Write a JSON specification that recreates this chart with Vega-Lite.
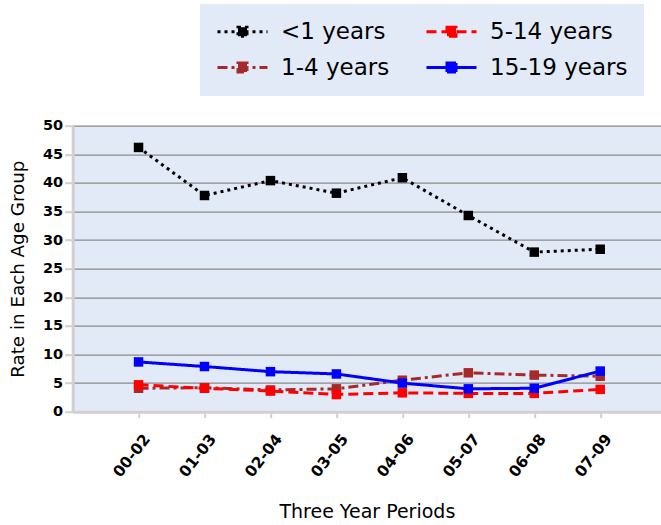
{
  "$schema": "https://vega.github.io/schema/vega-lite/v6.json",
  "autosize": {"type": "none"},
  "padding": {"left": 72.7, "top": 125.7, "right": 0, "bottom": 113.3},
  "width": 588.3,
  "height": 286,
  "background": "white",
  "data": {
    "values": [
      {"period": "00-02", "group": "<1 years", "rate": 46.2},
      {"period": "01-03", "group": "<1 years", "rate": 37.8},
      {"period": "02-04", "group": "<1 years", "rate": 40.4},
      {"period": "03-05", "group": "<1 years", "rate": 38.2},
      {"period": "04-06", "group": "<1 years", "rate": 40.9},
      {"period": "05-07", "group": "<1 years", "rate": 34.3},
      {"period": "06-08", "group": "<1 years", "rate": 27.9},
      {"period": "07-09", "group": "<1 years", "rate": 28.4},
      {"period": "00-02", "group": "1-4 years", "rate": 4.1},
      {"period": "01-03", "group": "1-4 years", "rate": 4.2},
      {"period": "02-04", "group": "1-4 years", "rate": 3.8},
      {"period": "03-05", "group": "1-4 years", "rate": 4.0},
      {"period": "04-06", "group": "1-4 years", "rate": 5.5},
      {"period": "05-07", "group": "1-4 years", "rate": 6.8},
      {"period": "06-08", "group": "1-4 years", "rate": 6.4},
      {"period": "07-09", "group": "1-4 years", "rate": 6.2},
      {"period": "00-02", "group": "5-14 years", "rate": 4.7},
      {"period": "01-03", "group": "5-14 years", "rate": 4.1},
      {"period": "02-04", "group": "5-14 years", "rate": 3.6},
      {"period": "03-05", "group": "5-14 years", "rate": 3.0},
      {"period": "04-06", "group": "5-14 years", "rate": 3.3},
      {"period": "05-07", "group": "5-14 years", "rate": 3.2},
      {"period": "06-08", "group": "5-14 years", "rate": 3.2},
      {"period": "07-09", "group": "5-14 years", "rate": 3.9},
      {"period": "00-02", "group": "15-19 years", "rate": 8.7},
      {"period": "01-03", "group": "15-19 years", "rate": 7.9},
      {"period": "02-04", "group": "15-19 years", "rate": 7.0},
      {"period": "03-05", "group": "15-19 years", "rate": 6.6},
      {"period": "04-06", "group": "15-19 years", "rate": 5.0},
      {"period": "05-07", "group": "15-19 years", "rate": 4.0},
      {"period": "06-08", "group": "15-19 years", "rate": 4.1},
      {"period": "07-09", "group": "15-19 years", "rate": 7.1}
    ]
  },
  "mark": {
    "type": "line",
    "strokeWidth": 3,
    "point": {"shape": "square", "filled": true, "size": 90, "opacity": 1}
  },
  "encoding": {
    "x": {
      "field": "period",
      "type": "ordinal",
      "sort": null,
      "scale": {"type": "point", "padding": 0.96, "align": 0.52},
      "axis": {
        "title": "Three Year Periods",
        "labelAngle": -52,
        "labelFontSize": 15.5,
        "labelFontWeight": "bold",
        "labelPadding": 18,
        "labelOffset": 8,
        "titlePadding": 23,
        "titleFontSize": 19,
        "grid": false,
        "domainColor": "#d0d0d0",
        "domainWidth": 3,
        "tickColor": "#d0d0d0",
        "tickWidth": 2,
        "tickSize": 6
      }
    },
    "y": {
      "field": "rate",
      "type": "quantitative",
      "scale": {"domain": [0, 50], "nice": false},
      "axis": {
        "title": "Rate in Each Age Group",
        "values": [0, 5, 10, 15, 20, 25, 30, 35, 40, 45, 50],
        "labelFontSize": 14.5,
        "labelFontWeight": "bold",
        "labelPadding": 2,
        "titlePadding": 15,
        "grid": true,
        "gridColor": "#8a8a8a",
        "gridWidth": 1.2,
        "domainColor": "#d0d0d0",
        "domainWidth": 3,
        "tickColor": "#d0d0d0",
        "tickWidth": 2,
        "tickSize": 8
      }
    },
    "color": {
      "field": "group",
      "type": "nominal",
      "scale": {
        "domain": ["<1 years", "1-4 years", "5-14 years", "15-19 years"],
        "range": ["#000000", "#a52a2a", "#ff0000", "#0000ff"]
      },
      "legend": {
        "title": null,
        "orient": "none",
        "legendX": 127.3,
        "legendY": -121.7,
        "columns": 2,
        "direction": "vertical",
        "fillColor": "#e3eaf7",
        "padding": 16,
        "symbolType": "M-2.5,0H2.5M-0.45,-0.45H0.45V0.45H-0.45Z",
        "symbolSize": 400,
        "symbolStrokeWidth": 3,
        "symbolOffset": 15,
        "labelOffset": 27,
        "labelFont": "DejaVu Sans",
        "labelFontSize": 23,
        "labelColor": "#000000",
        "rowPadding": 12,
        "columnPadding": 30,
        "encode": {"symbols": {"update": {"fill": {"value": {"expr": "scale('color', datum.value)"}}}}}
      }
    },
    "strokeDash": {
      "field": "group",
      "type": "nominal",
      "scale": {
        "domain": ["<1 years", "1-4 years", "5-14 years", "15-19 years"],
        "range": [[3, 4], [10, 4, 3, 4], [10, 5], [1, 0]]
      },
      "legend": {
        "title": null,
        "orient": "none",
        "legendX": 127.3,
        "legendY": -121.7,
        "columns": 2,
        "direction": "vertical",
        "fillColor": "#e3eaf7",
        "padding": 16,
        "symbolType": "M-2.5,0H2.5M-0.45,-0.45H0.45V0.45H-0.45Z",
        "symbolSize": 400,
        "symbolStrokeWidth": 3,
        "symbolOffset": 15,
        "labelOffset": 27,
        "labelFont": "DejaVu Sans",
        "labelFontSize": 23,
        "labelColor": "#000000",
        "rowPadding": 12,
        "columnPadding": 30
      }
    }
  },
  "config": {
    "view": {"stroke": null, "fill": "#e3eaf7"},
    "font": "DejaVu Sans",
    "axis": {
      "labelFont": "DejaVu Sans",
      "labelColor": "#000000",
      "titleFont": "DejaVu Sans",
      "titleFontSize": 18.3,
      "titleFontWeight": "normal",
      "titleColor": "#000000"
    }
  }
}
